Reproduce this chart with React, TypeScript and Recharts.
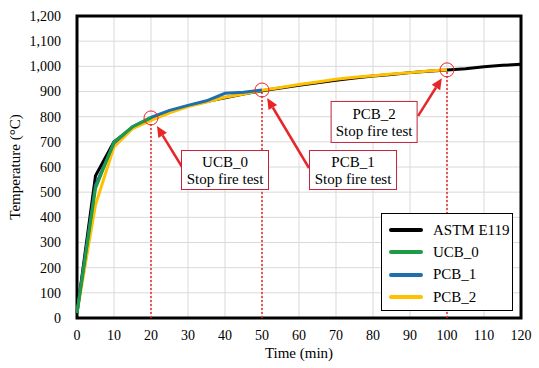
import React from 'react';
import {
  LineChart, Line, XAxis, YAxis, CartesianGrid, ReferenceArea, ReferenceDot,
  ReferenceLine, Label,
} from 'recharts';

const FONT = "'Liberation Serif', 'DejaVu Serif', serif";
const RED = '#e8262a';

// time (min) for each series
const astmTime = [0, 5, 10, 15, 20, 25, 30, 35, 40, 45, 50, 55, 60, 65, 70, 75, 80, 85, 90, 95, 100, 105, 110, 115, 120];
const astmTemp = [20, 565, 700, 755, 790, 820, 843, 860, 875, 890, 903, 914, 925, 935, 945, 954, 962, 968, 975, 980, 985, 990, 998, 1004, 1008];

const ucb0Time = [0, 5, 10, 15, 20];
const ucb0Temp = [20, 515, 700, 760, 795];

const pcb1Time = [0, 5, 10, 15, 20, 25, 30, 35, 40, 45, 50];
const pcb1Temp = [20, 528, 695, 760, 797, 825, 845, 863, 893, 897, 906];

const pcb2Time = [0, 5, 10, 15, 20, 25, 30, 35, 40, 45, 50, 55, 60, 65, 70, 75, 80, 85, 90, 95, 100];
const pcb2Temp = [20, 450, 680, 752, 785, 815, 840, 858, 877, 890, 905, 916, 928, 938, 949, 957, 963, 970, 975, 981, 986];

const xTicks = [0, 10, 20, 30, 40, 50, 60, 70, 80, 90, 100, 110, 120];
const yTicks = [0, 100, 200, 300, 400, 500, 600, 700, 800, 900, 1000, 1100, 1200];

// stop points: [time, temperature]
const stops: [number, number][] = [[20, 795], [50, 906], [100, 986]];

// annotation boxes: label, centre time, centre temperature
const notes: { label: string; t: number; v: number; w: number; h: number }[] = [
  { label: 'UCB_0', t: 40, v: 588, w: 87, h: 39 },
  { label: 'PCB_1', t: 74.6, v: 588, w: 87, h: 39 },
  { label: 'PCB_2', t: 80.3, v: 779, w: 86, h: 41 },
];

// arrows: from [t, v] to [t, v]
const arrows: [[number, number], [number, number]][] = [
  [[28.4, 600], [21.6, 763]],
  [[62.7, 596], [51.4, 874]],
  [[92.2, 803], [98.6, 953]],
];

const series = [
  { name: 'ASTM E119', color: '#000000', data: astmTime.map((t, i) => ({ t, v: astmTemp[i] })) },
  { name: 'UCB_0', color: '#1f9a48', data: ucb0Time.map((t, i) => ({ t, v: ucb0Temp[i] })) },
  { name: 'PCB_1', color: '#1f6fad', data: pcb1Time.map((t, i) => ({ t, v: pcb1Temp[i] })) },
  { name: 'PCB_2', color: '#ffc000', data: pcb2Time.map((t, i) => ({ t, v: pcb2Temp[i] })) },
];
// drawing order: black, yellow, blue, green on top
const drawOrder = [0, 3, 2, 1];

const Arrow = (props: any) => {
  const { x1, y1, x2, y2 } = props;
  if (x1 == null) return null;
  const ang = Math.atan2(y2 - y1, x2 - x1);
  const L = 11, W = 5;
  const bx = x2 - L * Math.cos(ang);
  const by = y2 - L * Math.sin(ang);
  const px = -Math.sin(ang) * W;
  const py = Math.cos(ang) * W;
  return (
    <g>
      <line x1={x1} y1={y1} x2={bx} y2={by} stroke={RED} strokeWidth={2.5} />
      <polygon points={`${x2},${y2} ${bx + px},${by + py} ${bx - px},${by - py}`} fill={RED} />
    </g>
  );
};

const LegendBox = () => (
  <div style={{
    position: 'absolute', left: 381, top: 213, width: 132, height: 98, border: '1px solid #000',
    background: '#fff', boxSizing: 'border-box', paddingTop: 5,
  }}>
    {series.map((s) => (
      <div key={s.name} style={{ display: 'flex', alignItems: 'center', height: 22.3, fontFamily: FONT, fontSize: 15 }}>
        <div style={{ width: 34, height: 4, background: s.color, marginLeft: 7, marginRight: 10, borderRadius: 2 }} />
        <span>{s.name}</span>
      </div>
    ))}
  </div>
);

export default function App() {
  return (
    <div style={{ position: 'absolute', left: 0, top: 0, width: 539, height: 368, background: '#fff', fontFamily: FONT }}>
      <LineChart width={539} height={368} margin={{ top: 16, right: 18, left: 0, bottom: 0 }} style={{ fontFamily: FONT }}>
        <CartesianGrid stroke="#d9d9d9" strokeWidth={1} />
        <XAxis
          type="number"
          dataKey="t"
          domain={[0, 120]}
          ticks={xTicks}
          interval={0}
          tickLine={false}
          axisLine={false}
          height={50}
          tickMargin={6}
          tick={{ fill: '#000', fontFamily: FONT, fontSize: 14 }}
          allowDuplicatedCategory={false}
        >
          <Label value="Time (min)" position="insideBottom" offset={10} style={{ fill: '#000', fontFamily: FONT, fontSize: 15 }} />
        </XAxis>
        <YAxis
          type="number"
          dataKey="v"
          domain={[0, 1200]}
          ticks={yTicks}
          interval={0}
          tickLine={false}
          axisLine={false}
          width={77}
          tickMargin={10}
          tickFormatter={(v: number) => v.toLocaleString('en-US')}
          tick={{ fill: '#000', fontFamily: FONT, fontSize: 14 }}
        >
          <Label value="Temperature (°C)" angle={-90} position="insideLeft" offset={15} style={{ fill: '#000', fontFamily: FONT, fontSize: 15, textAnchor: 'middle' }} />
        </YAxis>
        {stops.map(([t, v]) => (
          <ReferenceLine
            key={`d${t}`}
            segment={[{ x: t, y: 0 }, { x: t, y: v }]}
            stroke={RED}
            strokeWidth={1.5}
            strokeDasharray="2 2"
          />
        ))}
        {drawOrder.map((i) => {
          const s = series[i];
          return (
            <Line
              key={s.name}
              data={s.data}
              dataKey="v"
              name={s.name}
              stroke={s.color}
              strokeWidth={3}
              dot={false}
              type="linear"
              isAnimationActive={false}
            />
          );
        })}
        <ReferenceArea x1={0} x2={120} y1={0} y2={1200} fill="none" stroke="#000" strokeWidth={3} />
        {stops.map(([t, v]) => (
          <ReferenceDot key={`c${t}`} x={t} y={v} r={7} fill="none" stroke={RED} strokeWidth={1} />
        ))}
        {arrows.map(([a, b], i) => (
          <ReferenceLine key={`a${i}`} segment={[{ x: a[0], y: a[1] }, { x: b[0], y: b[1] }]} shape={Arrow} />
        ))}
        {notes.map((n) => (
          <ReferenceDot
            key={n.label}
            x={n.t}
            y={n.v}
            shape={(p: any) => (
              <g>
                <rect x={p.cx - n.w / 2} y={p.cy - n.h / 2} width={n.w} height={n.h} fill="#fff" stroke="#c0243a" strokeWidth={1} />
                <text x={p.cx} y={p.cy - 3} textAnchor="middle" style={{ fontFamily: FONT }} fontSize={15} fill="#000">{n.label}</text>
                <text x={p.cx} y={p.cy + 14} textAnchor="middle" style={{ fontFamily: FONT }} fontSize={15} fill="#000">Stop fire test</text>
              </g>
            )}
          />
        ))}
      </LineChart>
      <LegendBox />
    </div>
  );
}
